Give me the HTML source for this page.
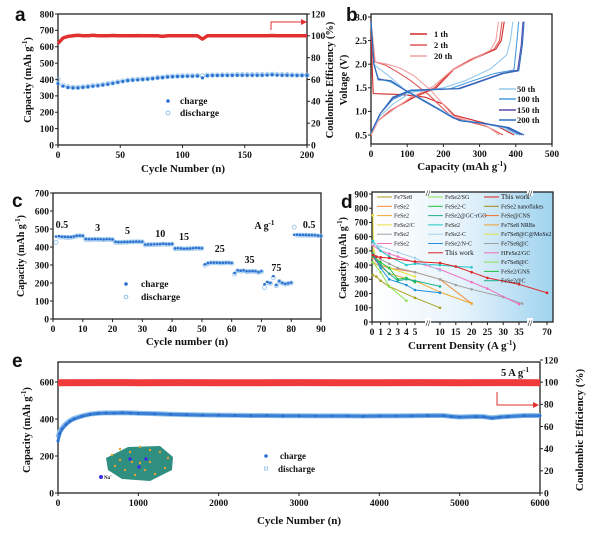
<!DOCTYPE html>
<html><head><meta charset="utf-8">
<style>
html,body{margin:0;padding:0;background:#fff;}
svg{display:block;font-family:"Liberation Serif",serif;font-weight:bold;}
.lbl{font-family:"Liberation Sans",sans-serif;font-weight:bold;font-size:19px;}
</style></head>
<body>
<svg id="fig" width="600" height="538" viewBox="0 0 600 538" xmlns="http://www.w3.org/2000/svg">
<defs>
<linearGradient id="dbg" x1="0" x2="1" y1="0" y2="0">
<stop offset="0" stop-color="#ffffff"/><stop offset="0.5" stop-color="#e6f3fb"/><stop offset="1" stop-color="#9fd3ef"/>
</linearGradient>
</defs>
</svg>
<script>
// ---------- Panel a data ----------
const aCycles=[0,4,8,12,16,20,24,28,32,36,40,44,48,52,56,60,64,68,72,76,80,84,88,92,96,100,104,108,112,116,120,124,128,132,136,140,144,148,152,156,160,164,168,172,176,180,184,188,192,196,200];
const aCharge=[375,360,352,350,350,353,356,360,363,367,372,377,383,389,394,397,399,401,403,406,410,412,416,418,419,420,421,421,422,410,424,425,425,426,426,426,427,427,427,427,427,427,428,430,428,427,427,426,425,425,425];
const aDischarge=[400,365,355,352,352,355,358,362,365,369,374,379,385,391,396,399,401,403,405,408,412,414,418,420,421,422,423,423,424,422,426,427,427,428,428,428,429,429,429,429,429,429,430,432,430,429,429,428,427,427,427];
const aEff=[93,98,99.5,100,100.5,100,100,100.5,100,100,100,100.3,100,100,100,100,100.2,100,100,100,100,99.5,100,100,100,100,100,100,100,97,100,100,100,100,100,100,100,100,100,100,100,100,100,100.3,100,100,100,100,100,100,100];
const aYTicks=[0,100,200,300,400,500,600,700,800];
const aXTicks=[0,50,100,150,200];
const aY2Ticks=[0,20,40,60,80,100,120];
// ---------- Panel b data ----------
const bLabels=["1 th","2 th","20 th","50 th","100 th","150 th","200 th"];
const bColors=["#d42a2a","#e05656","#f2a0a0","#96c8ec","#4a9ee0","#5a4aa8","#2a6fc0"];
const bDisCap=[
 [0,3,6,30,80,150,200,230,300,350,395],
 [0,10,40,70,110,160,200,225,260,320,365],
 [0,12,45,80,120,165,205,228,262,318,355],
 [0,8,20,50,90,150,220,240,300,360,405],
 [0,8,20,55,92,150,225,245,305,370,412],
 [0,8,20,55,93,152,226,248,308,375,418],
 [0,8,20,55,94,153,227,250,310,380,423]];
const bDisV=[
 [2.9,2.0,1.38,1.37,1.36,1.3,1.15,0.92,0.78,0.68,0.5],
 [2.9,2.05,1.98,1.85,1.65,1.35,1.05,0.88,0.8,0.68,0.5],
 [2.9,2.05,2.0,1.92,1.75,1.45,1.1,0.9,0.82,0.7,0.5],
 [2.9,2.0,1.92,1.75,1.48,1.22,0.92,0.82,0.76,0.66,0.5],
 [2.9,2.0,1.7,1.62,1.46,1.2,0.88,0.8,0.75,0.66,0.5],
 [2.9,2.0,1.68,1.65,1.45,1.2,0.87,0.8,0.75,0.66,0.5],
 [2.9,2.0,1.67,1.65,1.45,1.2,0.86,0.8,0.75,0.66,0.5]];
const bChCap=[
 [0,20,50,120,180,230,280,345,360,368],
 [0,20,50,115,175,225,275,340,355,362],
 [0,20,55,110,170,220,270,330,345,352],
 [0,25,60,110,200,260,330,375,385,392],
 [0,25,60,110,220,270,340,395,402,408],
 [0,25,60,110,240,285,360,405,415,420],
 [0,25,60,110,245,290,365,408,418,423]];
const bChV=[
 [0.5,0.8,1.0,1.3,1.5,1.9,2.1,2.32,2.5,2.9],
 [0.5,0.8,1.0,1.3,1.5,1.88,2.1,2.32,2.5,2.9],
 [0.5,0.8,1.0,1.3,1.52,1.85,2.05,2.3,2.5,2.9],
 [0.55,0.9,1.15,1.4,1.5,1.65,1.9,2.2,2.5,2.9],
 [0.55,0.95,1.25,1.43,1.48,1.62,1.8,1.88,2.4,2.9],
 [0.55,0.95,1.28,1.45,1.48,1.6,1.8,1.87,2.4,2.9],
 [0.55,0.95,1.3,1.45,1.48,1.6,1.8,1.86,2.4,2.9]];
const bYTicks=[0.5,1.0,1.5,2.0,2.5,3.0];
const bXTicks=[0,100,200,300,400,500];
// ---------- Panel c data ----------
const cCharge=[458,460,457,456,455,455,458,462,463,462,444,443,443,444,443,443,442,443,443,442,428,427,427,428,428,429,429,430,430,429,413,414,414,415,415,416,418,416,416,417,392,393,392,390,391,392,393,395,394,393,303,310,313,313,313,312,312,313,313,311,255,270,268,270,265,265,266,265,260,265,193,205,200,238,188,210,200,195,198,202,468,468,467,467,467,466,466,465,463,462];
const cDischarge=[425,455,455,454,453,454,456,460,462,461,442,442,442,443,442,442,441,442,442,441,426,426,426,427,427,428,428,429,429,428,411,413,413,414,414,415,416,415,415,416,390,391,391,389,390,391,392,393,393,392,298,308,311,312,312,311,311,312,312,310,250,268,266,268,263,264,265,264,259,263,175,200,198,230,185,208,199,194,197,200,510,466,466,466,466,465,465,464,462,461];
const cRates=["0.5","3","5","10","15","25","35","75"];
const cRateCycle=[3,15,25,36,44,56,66,75];
const cRateCap=[505,490,472,455,440,372,311,267];
const cYTicks=[0,100,200,300,400,500,600,700];
const cXTicks=[0,10,20,30,40,50,60,70,80,90];
// ---------- Panel d data ----------
const dNames=["Fe7Se8","FeSe2","FeSe2","FeSe2/C","FeSe2","FeSe2","FeSe2/SG","FeSe2-C","FeSe2@GC-rGO","FeSe2","FeSe2-C","FeSe2/N-C","This work"];
const dColors=["#a8a020","#f08a3a","#f0a830","#e8e040","#a0a0a0","#f070c0","#90e050","#20c040","#20b090","#20c8c8","#a8d0ec","#2090e0","#e02020"];
const dX=[
 [0.1,0.5,1,2,5,10],
 [0.1,0.5,1,2,5,10,20],
 [0.1,1,2,5,10,20],
 [0.1,0.2,0.5,1,2,5],
 [0.1,1,2,3,5,10,15,20,30,36],
 [0.1,1,2,3,5,10,20,25,35],
 [0.1,1,2,4],
 [0.1,1,2,3,4,5],
 [0.1,1,2,3,4,5,10],
 [0.1,1,2,4,5,10,15,20],
 [0.1,1,3,5,10],
 [0.1,1,2,4,5,10],
 [0.1,0.5,1,2,5,10,15,20,25,35,70]];
const dY=[
 [330,320,290,250,170,100],
 [450,430,400,380,350,300,130],
 [420,390,340,290,210,130],
 [750,500,450,420,380,320],
 [480,440,410,380,350,300,260,230,175,130],
 [540,500,480,460,420,370,280,235,125],
 [420,350,250,150],
 [460,420,380,300,310,280],
 [480,400,340,290,300,290,250],
 [570,500,460,400,410,400,390,385],
 [550,530,490,450,360],
 [470,380,300,260,225,205],
 [470,460,455,450,425,415,390,350,310,265,205]];
const dLegend3=["This work","FeSe2 nanoflakes","FeSe@CNS","Fe7Se8 NRBs","Fe7Se8@C@MoSe2","Fe7Se8@C","HFeSe2/GC","Fe7Se8@C","FeSe2/GNS","FeSe2@C"];
const dLegend3Colors=["#e02020","#a08a10","#f07030","#f0a030","#e8e040","#a0a0a0","#f070c0","#90e050","#20c040","#20b090"];
const dYTicks=[0,100,200,300,400,500,600,700,800,900];
const dXTicks=["0","1","2","3","4","5","10","15","20","25","30","35","70"];
const dXTickVals=[0,1,2,3,4,5,10,15,20,25,30,35,70];
// ---------- Panel e data ----------
const eCycles=[0,20,50,100,150,200,300,400,500,600,700,800,900,1000,1200,1400,1600,1800,2000,2200,2400,2600,2800,3000,3200,3400,3600,3800,4000,4200,4400,4600,4800,4900,5000,5200,5300,5400,5500,5600,5800,6000];
const eCharge=[280,320,345,370,388,400,415,425,430,432,432,433,432,430,428,425,423,421,420,419,418,418,417,417,416,416,416,415,416,416,417,418,418,413,410,413,412,405,410,413,418,418];
const eDischarge=[300,330,352,375,392,403,417,427,431,433,433,434,433,431,429,426,424,422,421,420,419,419,418,418,417,417,417,416,417,417,418,419,419,414,411,414,413,407,411,414,419,419];
const eEffCycles=[0,500,1000,1500,2000,2500,3000,3500,4000,4500,5000,5500,6000];
const eEff=[99.5,99.6,99.5,99.6,99.5,99.5,99.6,99.5,99.5,99.6,99.4,99.6,99.5];
const eYTicks=[0,200,400,600];
const eXTicks=[0,1000,2000,3000,4000,5000,6000];
const eY2Ticks=[0,20,40,60,80,100,120];

const NS="http://www.w3.org/2000/svg";
const svg=document.getElementById('fig');
function mk(tag,attrs,parent,name,inter){
  const e=document.createElementNS(NS,tag);
  for(const k in attrs) e.setAttribute(k,attrs[k]);
  
  
  (parent||svg).appendChild(e);
  return e;
}
function txt(x,y,s,size,anchor,parent,name,extra){
  const a={x:x,y:y,'font-size':size,'text-anchor':anchor||'middle',fill:'#111'};
  if(extra) for(const k in extra) a[k]=extra[k];
  const t=mk('text',a,parent,name,false);
  t.innerHTML=s;
  return t;
}
function frame(x1,y1,x2,y2,g,name){
  mk('rect',{x:x1,y:y1,width:x2-x1,height:y2-y1,fill:'none',stroke:'#222','stroke-width':1.3},g,name,false);
}
function yAxis(vals,xpos,fy,g,side,fmt,prefix,size){
  vals.forEach(v=>{
    const y=fy(v);
    const d=side==='left'?-3:3;
    mk('line',{x1:xpos,x2:xpos+d,y1:y,y2:y,stroke:'#222','stroke-width':1},g,prefix+'-tick',false);
    txt(side==='left'?xpos-4:xpos+4,y+3.3,fmt?fmt(v):v,size||9.5,side==='left'?'end':'start',g,prefix+'-label');
  });
}
function xAxis(vals,ypos,fx,g,prefix,labels,size){
  vals.forEach((v,i)=>{
    const x=fx(v);
    mk('line',{x1:x,x2:x,y1:ypos,y2:ypos+3,stroke:'#222','stroke-width':1},g,prefix+'-tick',false);
    txt(x,ypos+13,labels?labels[i]:v,size||9.5,'middle',g,prefix+'-label');
  });
}
function poly(xs,ys,fx,fy,g,color,w,name){
  const pts=xs.map((x,i)=>fx(x).toFixed(1)+','+fy(ys[i]).toFixed(1)).join(' ');
  return mk('polyline',{points:pts,fill:'none',stroke:color,'stroke-width':w,'stroke-linejoin':'round'},g,name,false);
}
function dots(xs,ys,fx,fy,g,filled,r,name){
  xs.forEach((x,i)=>{
    if(filled) mk('circle',{cx:fx(x),cy:fy(ys[i]),r:r,fill:'#2a6fd0'},g,name,false);
    else mk('circle',{cx:fx(x),cy:fy(ys[i]),r:r,fill:'none',stroke:'#8fc2ea','stroke-width':0.8},g,name,false);
  });
}
function rotTitle(x,y,s,g,name,size){
  txt(0,0,s,size||11,'middle',g,name,{transform:`translate(${x},${y}) rotate(-90)`});
}
const GU="g<tspan dy='-4' font-size='7'>-1</tspan><tspan dy='4'>)</tspan>";

// ================= Panel a =================
(function(){
  const g=mk('g',{},svg,'panel-a',false);
  const xa=c=>58+c*(249/200), ya=v=>145-v*(131/800), ya2=e=>145-e*(131/120);
  frame(58,14,307,145,g,'panel-a-frame');
  yAxis(aYTicks,58,ya,g,'left',null,'a-y-tick');
  yAxis(aY2Ticks,307,ya2,g,'right',null,'a-y2-tick');
  xAxis(aXTicks,145,xa,g,'a-x-tick');
  dots(aCycles,aDischarge,xa,ya,g,false,2.2,'a-discharge-point');
  dots(aCycles,aCharge,xa,ya,g,true,1.6,'a-charge-point');
  poly(aCycles,aEff,xa,ya2,g,'#e03030',3.5,'a-efficiency-line');
  rotTitle(31,80,"Capacity (mAh "+GU,g,'a-y-axis-title',10.5);
  rotTitle(333,80,"Coulombic Efficiency (%)",g,'a-y2-axis-title',10.5);
  txt(183,172,"Cycle Number (n)",11,'middle',g,'a-x-axis-title');
  mk('path',{d:'M271,30 V22 H302',fill:'none',stroke:'#e03030','stroke-width':1},g,'a-arrow',false);
  mk('path',{d:'M307,22 l-6,-3 v6 z',fill:'#e03030'},g,'a-arrow-head',false);
  mk('circle',{cx:168,cy:101,r:1.8,fill:'#2a6fd0'},g,'a-legend-charge-marker',false);
  txt(180,104,"charge",9.5,'start',g,'a-legend-charge');
  mk('circle',{cx:168,cy:113,r:2,fill:'none',stroke:'#8fc2ea'},g,'a-legend-discharge-marker',false);
  txt(180,116,"discharge",9.5,'start',g,'a-legend-discharge');
  txt(15,21,"a",19,'start',g,'panel-a-letter',{class:'lbl'});
})();

// ================= Panel b =================
(function(){
  const g=mk('g',{},svg,'panel-b',false);
  const xb=c=>371+c*(181/500), yb=v=>17+(3.0-v)*47.2;
  frame(371,14,552,144,g,'panel-b-frame');
  yAxis(bYTicks,371,yb,g,'left',v=>v.toFixed(1),'b-y-tick');
  xAxis(bXTicks,144,xb,g,'b-x-tick');
  for(let i=0;i<7;i++){
    poly(bDisCap[i],bDisV[i],xb,yb,g,bColors[i],1.1,'b-discharge-curve-'+bLabels[i].replace(' ',''));
    poly(bChCap[i],bChV[i],xb,yb,g,bColors[i],1.1,'b-charge-curve-'+bLabels[i].replace(' ',''));
  }
  rotTitle(347,80,"Voltage (V)",g,'b-y-axis-title',10.5);
  txt(462,170,"Capacity (mAh "+GU,11,'middle',g,'b-x-axis-title');
  const ly=[34,45,56,89,99,110,120];
  for(let i=0;i<7;i++){
    const x0=i<3?410:499;
    mk('line',{x1:x0,x2:x0+17,y1:ly[i],y2:ly[i],stroke:bColors[i],'stroke-width':1.5},g,'b-legend-line',false);
    txt(x0+(i<3?24:18),ly[i]+3,bLabels[i],8.5,'start',g,'b-legend-label');
  }
  txt(346,21,"b",19,'start',g,'panel-b-letter',{class:'lbl'});
})();

// ================= Panel c =================
(function(){
  const g=mk('g',{},svg,'panel-c',false);
  const xc=c=>53+c*(268/90), yc=v=>319-v*(108/600);
  frame(53,193,321,319,g,'panel-c-frame');
  yAxis(cYTicks,53,yc,g,'left',null,'c-y-tick');
  xAxis(cXTicks,319,xc,g,'c-x-tick');
  const cyc=cCharge.map((v,i)=>i+1);
  dots(cyc,cDischarge,xc,yc,g,false,2,'c-discharge-point');
  dots(cyc,cCharge,xc,yc,g,true,1.3,'c-charge-point');
  cRates.forEach((r,i)=>txt(xc(cRateCycle[i]),yc(cRateCap[i]),r,10,'middle',g,'c-rate-label'));
  txt(xc(86),yc(505),"0.5",10,'middle',g,'c-rate-label');
  txt(xc(71),yc(500),"A g<tspan dy='-4' font-size='7'>-1</tspan>",10,'middle',g,'c-unit-label');
  rotTitle(24,256,"Capacity (mAh "+GU,g,'c-y-axis-title',10);
  txt(187,345,"Cycle number (n)",11,'middle',g,'c-x-axis-title');
  mk('circle',{cx:126,cy:284,r:1.8,fill:'#2a6fd0'},g,'c-legend-charge-marker',false);
  txt(141,287,"charge",9.5,'start',g,'c-legend-charge');
  mk('circle',{cx:126,cy:297,r:1.8,fill:'none',stroke:'#8fc2ea'},g,'c-legend-discharge-marker',false);
  txt(141,300,"discharge",9.5,'start',g,'c-legend-discharge');
  txt(12,207,"c",19,'start',g,'panel-c-letter',{class:'lbl'});
})();

// ================= Panel d =================
(function(){
  const g=mk('g',{},svg,'panel-d',false);
  const xd=x=> x<=5 ? 372+x*8.6 : (x<=36 ? 440+(x-10)*3.16 : 547+(x-70)*0.5);
  const yd=v=>322-v*(128/900);
  mk('rect',{x:372,y:192,width:181,height:130,fill:'url(#dbg)'},g,'d-background',false);
  frame(372,192,553,322,g,'panel-d-frame');
  yAxis(dYTicks,372,yd,g,'left',null,'d-y-tick',9);
  xAxis(dXTickVals,322,xd,g,'d-x-tick',dXTicks,9.5);
  for(let i=0;i<dX.length;i++){
    poly(dX[i],dY[i],xd,yd,g,dColors[i],1,'d-series-line');
    dX[i].forEach((x,j)=>{
      mk('circle',{cx:xd(x),cy:yd(dY[i][j]),r:1.3,fill:dColors[i]},g,'d-series-point',false);
    });
  }
  [428,530].forEach(x=>{
    mk('rect',{x:x-3,y:188,width:6,height:8,fill:'#fff'},g,'d-axis-break-gap',false);
    txt(x,196,"//",8,'middle',g,'d-axis-break');
    mk('rect',{x:x-3,y:318,width:6,height:8,fill:'#fff'},g,'d-axis-break-gap',false);
    txt(x,326,"//",8,'middle',g,'d-axis-break');
  });
  const col1=dNames.slice(0,6), col2=dNames.slice(6);
  col1.forEach((n,i)=>{
    const y=197+i*9.3;
    mk('line',{x1:377,x2:392,y1:y,y2:y,stroke:dColors[i],'stroke-width':1},g,'d-legend-line',false);
    txt(394,y+2,n,6,'start',g,'d-legend-label',{'font-weight':'normal'});
  });
  col2.forEach((n,i)=>{
    const y=197+i*9.3;
    mk('line',{x1:428,x2:443,y1:y,y2:y,stroke:dColors[i+6],'stroke-width':1},g,'d-legend-line',false);
    txt(445,y+2,n,i===col2.length-1?7:6,'start',g,'d-legend-label',{'font-weight':'normal'});
  });
  dLegend3.forEach((n,i)=>{
    const y=197+i*9.3;
    mk('line',{x1:484,x2:499,y1:y,y2:y,stroke:dLegend3Colors[i],'stroke-width':1},g,'d-legend-line',false);
    txt(501,y+2,n,i===0?7:6,'start',g,'d-legend-label',{'font-weight':'normal'});
  });
  rotTitle(346,258,"Capacity (mAh "+GU,g,'d-y-axis-title',10);
  txt(462,349,"Current Density (A "+GU,11,'middle',g,'d-x-axis-title');
  txt(341,208,"d",19,'start',g,'panel-d-letter',{class:'lbl'});
})();

// ================= Panel e =================
(function(){
  const g=mk('g',{},svg,'panel-e',false);
  const xe=c=>58+c*(482/6000), ye=v=>493-v*(37/200), ye2=e=>493-e*(133/120);
  frame(58,362,540,493,g,'panel-e-frame');
  yAxis(eYTicks,58,ye,g,'left',null,'e-y-tick');
  yAxis(eY2Ticks,540,ye2,g,'right',null,'e-y2-tick');
  xAxis(eXTicks,493,xe,g,'e-x-tick');
  poly(eEffCycles,eEff,xe,ye2,g,'#ee3a3a',7,'e-efficiency-band');
  poly(eCycles,eDischarge,xe,ye,g,'#8fc2ea',5,'e-discharge-band');
  poly(eCycles,eCharge,xe,ye,g,'#3b7fd6',3,'e-charge-band');
  dots(eCycles,eCharge,xe,ye,g,true,1.5,'e-charge-point');
  txt(515,376,"5 A g<tspan dy='-4' font-size='7'>-1</tspan>",10.5,'middle',g,'e-rate-label');
  mk('path',{d:'M497,392 V405 H533',fill:'none',stroke:'#e03030','stroke-width':1},g,'e-arrow',false);
  mk('path',{d:'M539,405 l-6,-3 v6 z',fill:'#e03030'},g,'e-arrow-head',false);
  mk('circle',{cx:266,cy:456,r:1.8,fill:'#2a6fd0'},g,'e-legend-charge-marker',false);
  txt(280,459,"charge",9,'start',g,'e-legend-charge');
  mk('rect',{x:264.5,y:467,width:3,height:3,fill:'none',stroke:'#8fc2ea','stroke-width':0.8},g,'e-legend-discharge-marker',false);
  txt(278,472,"discharge",9,'start',g,'e-legend-discharge');
  const ins=mk('g',{},g,'e-inset-structure',false);
  mk('path',{d:'M106,458 L128,447 L160,446 L173,457 L172,470 L150,481 L122,479 L108,470 Z',fill:'#2f8f80'},ins,'e-inset-body',false);
  [[112,455],[120,449],[130,452],[140,447],[150,450],[160,452],[168,458],[115,466],[125,470],[135,475],[145,470],[155,474],[165,468],[120,460],[150,462],[140,463],[132,462]].forEach(p=>{
    mk('circle',{cx:p[0],cy:p[1],r:1.2,fill:'#e0a030'},ins,'e-inset-atom',false);
  });
  [[130,459],[146,459],[139,467]].forEach(p=>{
    mk('circle',{cx:p[0],cy:p[1],r:1.8,fill:'#3a30e0'},ins,'e-inset-na-ion',false);
  });
  mk('circle',{cx:101,cy:477,r:2,fill:'#3a30e0'},g,'e-na-legend-marker',false);
  txt(104,479,"Na<tspan dy='-2' font-size='3'>+</tspan>",5,'start',g,'e-na-legend');
  rotTitle(30,430,"Capacity (mAh "+GU,g,'e-y-axis-title',10.5);
  rotTitle(583,430,"Coulombic Efficiency (%)",g,'e-y2-axis-title',11);
  txt(299,524,"Cycle Number (n)",11,'middle',g,'e-x-axis-title');
  txt(12,367,"e",19,'start',g,'panel-e-letter',{class:'lbl'});
})();
</script>
</body></html>
